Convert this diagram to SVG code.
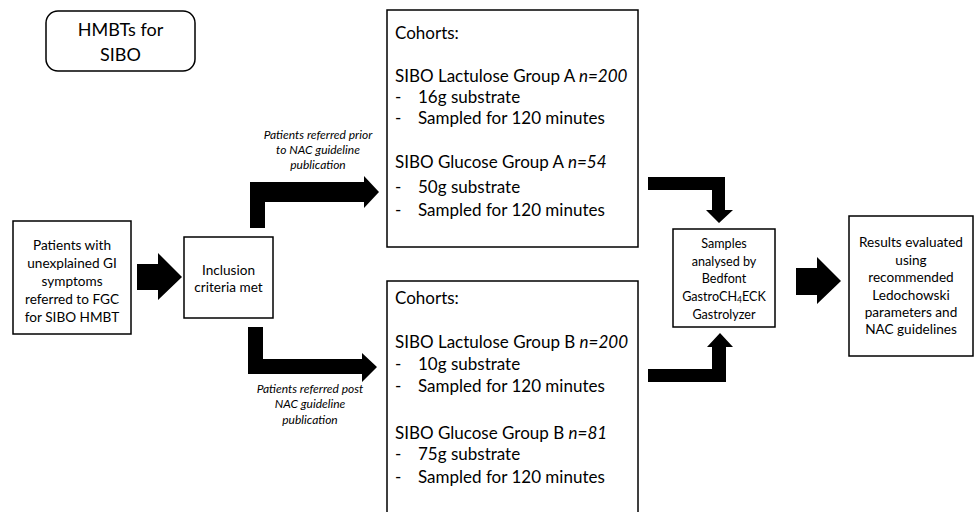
<svg xmlns="http://www.w3.org/2000/svg" width="976" height="512" viewBox="0 0 976 512">
<style>
.box{fill:#fff;stroke:#000;stroke-width:1.5}
text{font-family:Lato,"Open Sans",sans-serif;fill:#000}
.c{text-anchor:middle}
.t13{font-size:13.6px}
.t12{font-size:12.6px}
.t16{font-size:17px}
.lab{font-size:12px;font-style:italic;text-anchor:middle}
.arr{fill:#000}
</style>
<rect width="976" height="512" fill="#fff"/>
<g id="title">
<rect class="box" x="46" y="11" width="149" height="60" rx="12"/>
<text class="c" x="120.5" y="36" font-size="18">HMBTs for</text>
<text class="c" x="120.5" y="61" font-size="18">SIBO</text>
</g>
<g id="patients">
<rect class="box" x="13" y="221" width="118" height="113"/>
<text class="c t13" x="72" y="250">Patients with</text>
<text class="c t13" x="72" y="268">unexplained GI</text>
<text class="c t13" x="72" y="286">symptoms</text>
<text class="c t13" x="72" y="304">referred to FGC</text>
<text class="c t13" x="72" y="322">for SIBO HMBT</text>
</g>
<g id="inclusion">
<rect class="box" x="184" y="237" width="89" height="81"/>
<text class="c t13" x="228.5" y="275">Inclusion</text>
<text class="c t13" x="228.5" y="292">criteria met</text>
</g>
<g id="cohortA">
<rect class="box" x="387" y="10" width="251" height="237"/>
<text class="t16" x="395" y="39">Cohorts:</text>
<text class="t16" x="395" y="82">SIBO Lactulose Group A <tspan font-style="italic">n=200</tspan></text>
<text class="t16" x="395" y="103">-</text><text class="t16" x="418" y="103">16g substrate</text>
<text class="t16" x="395" y="124">-</text><text class="t16" x="418" y="124">Sampled for 120 minutes</text>
<text class="t16" x="395" y="168">SIBO Glucose Group A <tspan font-style="italic">n=54</tspan></text>
<text class="t16" x="395" y="193">-</text><text class="t16" x="418" y="193">50g substrate</text>
<text class="t16" x="395" y="216">-</text><text class="t16" x="418" y="216">Sampled for 120 minutes</text>
</g>
<g id="cohortB">
<rect class="box" x="387" y="281" width="251" height="240"/>
<text class="t16" x="395" y="304">Cohorts:</text>
<text class="t16" x="395" y="348">SIBO Lactulose Group B <tspan font-style="italic">n=200</tspan></text>
<text class="t16" x="395" y="370">-</text><text class="t16" x="418" y="370">10g substrate</text>
<text class="t16" x="395" y="392">-</text><text class="t16" x="418" y="392">Sampled for 120 minutes</text>
<text class="t16" x="395" y="439">SIBO Glucose Group B <tspan font-style="italic">n=81</tspan></text>
<text class="t16" x="395" y="460">-</text><text class="t16" x="418" y="460">75g substrate</text>
<text class="t16" x="395" y="483">-</text><text class="t16" x="418" y="483">Sampled for 120 minutes</text>
</g>
<g id="samples">
<rect class="box" x="673" y="229" width="102" height="98"/>
<text class="c t12" x="724" y="248">Samples</text>
<text class="c t12" x="724" y="266">analysed by</text>
<text class="c t12" x="724" y="283">Bedfont</text>
<text class="c t12" x="724" y="301">GastroCH<tspan font-size="8.5px" dy="2">4</tspan><tspan dy="-2">ECK</tspan></text>
<text class="c t12" x="724" y="319">Gastrolyzer</text>
</g>
<g id="results">
<rect class="box" x="849" y="216" width="124" height="140"/>
<text class="c t13" x="911" y="247">Results evaluated</text>
<text class="c t13" x="911" y="265">using</text>
<text class="c t13" x="911" y="282">recommended</text>
<text class="c t13" x="911" y="300">Ledochowski</text>
<text class="c t13" x="911" y="317">parameters and</text>
<text class="c t13" x="911" y="334">NAC guidelines</text>
</g>
<g id="connectors">
<polygon class="arr" points="137,264 158,264 158,253 182,277 158,300 158,290 137,290"/>
<polygon class="arr" points="250,228 250,182 364,182 364,176 379,192 364,208 364,202 265,202 265,228"/>
<polygon class="arr" points="248,327 263,327 263,359 362,359 362,353 377,367 362,382 362,374 248,374"/>
<polygon class="arr" points="648,177 725,177 725,210 733,210 719,223 706,210 712,210 712,190 648,190"/>
<polygon class="arr" points="648,369 712,369 712,347 707,347 720,333 733,347 726,347 726,382 648,382"/>
<polygon class="arr" points="796,268 817,268 817,257 841,281 817,304 817,295 796,295"/>
<text class="lab" x="318" y="139">Patients referred prior</text>
<text class="lab" x="318" y="154">to NAC guideline</text>
<text class="lab" x="318" y="169">publication</text>
<text class="lab" x="310" y="393">Patients referred post</text>
<text class="lab" x="310" y="408">NAC guideline</text>
<text class="lab" x="310" y="424">publication</text>
</g>
</svg>
